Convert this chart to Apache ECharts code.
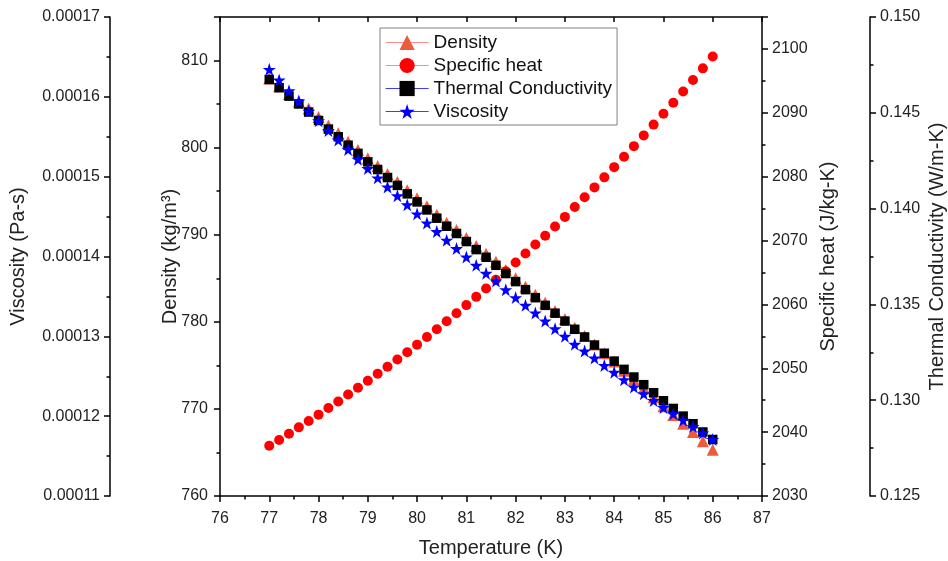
<!DOCTYPE html>
<html>
<head>
<meta charset="utf-8">
<script src="https://cdn.jsdelivr.net/npm/echarts@6.0.0/dist/echarts.min.js"></script>
<style>
html,body{margin:0;padding:0;background:#fff;}
#chart{width:948px;height:561px;}
</style>
</head>
<body>
<div id="chart"></div>
<script>
const temperature = [77.0,77.2,77.4,77.6,77.8,78.0,78.2,78.4,78.6,78.8,
  79.0,79.2,79.4,79.6,79.8,80.0,80.2,80.4,80.6,80.8,
  81.0,81.2,81.4,81.6,81.8,82.0,82.2,82.4,82.6,82.8,
  83.0,83.2,83.4,83.6,83.8,84.0,84.2,84.4,84.6,84.8,
  85.0,85.2,85.4,85.6,85.8,86.0];

const density = [807.95,807.05,806.15,805.29,804.48,803.53,802.53,801.65,800.69,799.73,
  798.77,797.89,796.97,796.05,795.10,794.18,793.26,792.30,791.38,790.54,
  789.62,788.70,787.82,786.90,785.94,785.00,784.04,783.10,782.18,781.23,
  780.33,779.31,778.37,777.39,776.38,775.44,774.37,773.37,772.38,771.34,
  770.31,769.31,768.31,767.34,766.28,765.31];

const specificHeat = [2037.87,2038.78,2039.76,2040.75,2041.74,2042.74,2043.78,2044.81,2045.88,2046.96,
  2048.04,2049.14,2050.25,2051.38,2052.52,2053.70,2054.89,2056.11,2057.35,2058.62,
  2059.89,2061.18,2062.48,2063.86,2065.19,2066.55,2067.96,2069.37,2070.75,2072.21,
  2073.70,2075.24,2076.77,2078.32,2079.89,2081.49,2083.12,2084.78,2086.46,2088.15,
  2089.86,2091.58,2093.34,2095.13,2096.96,2098.81];

const thermalConductivity = [0.14674,0.14631,0.14587,0.14546,0.14504,0.14460,0.14415,0.14375,0.14331,0.14288,
  0.14244,0.14204,0.14162,0.14121,0.14077,0.14035,0.13993,0.13950,0.13908,0.13870,
  0.13828,0.13786,0.13746,0.13704,0.13661,0.13619,0.13577,0.13535,0.13495,0.13454,
  0.13413,0.13370,0.13330,0.13288,0.13245,0.13204,0.13161,0.13121,0.13081,0.13039,
  0.12997,0.12957,0.12917,0.12877,0.12834,0.12795];

const viscosity = [1.6344e-4,1.6210e-4,1.6076e-4,1.5947e-4,1.5821e-4,1.5700e-4,1.5579e-4,1.5458e-4,1.5341e-4,1.5219e-4,
  1.5102e-4,1.4985e-4,1.4872e-4,1.4760e-4,1.4647e-4,1.4534e-4,1.4421e-4,1.4312e-4,1.4204e-4,1.4099e-4,
  1.3995e-4,1.3890e-4,1.3790e-4,1.3694e-4,1.3585e-4,1.3485e-4,1.3389e-4,1.3293e-4,1.3192e-4,1.3096e-4,
  1.3000e-4,1.2900e-4,1.2816e-4,1.2728e-4,1.2636e-4,1.2549e-4,1.2457e-4,1.2365e-4,1.2280e-4,1.2195e-4,
  1.2110e-4,1.2030e-4,1.1950e-4,1.1870e-4,1.1790e-4,1.1708e-4];

const seriesNames = ['Density','Specific heat','Thermal Conductivity','Viscosity'];

const FONT = 'Liberation Sans, Arial, Helvetica, sans-serif';
const TXT = '#222';
const STAR = 'path://M50,0 L61.8,35.1 L98.1,35.1 L68.8,56.8 L79.4,91.0 L50,70 L20.6,91.0 L31.2,56.8 L1.9,35.1 L38.2,35.1 Z';

function pairs(vals){ return temperature.map((t,i)=>[t, vals[i]]); }

function yAxisBase(extra){
  return Object.assign({
    type:'value',
    splitLine:{show:false},
    axisLine:{show:true, onZero:false, lineStyle:{color:'#000', width:1.5}},
    axisTick:{show:true, inside:false, length:6, lineStyle:{color:'#000', width:1.5}},
    minorTick:{show:true, splitNumber:2, length:3.5, lineStyle:{color:'#000', width:1.5}},
    nameLocation:'middle',
    nameMoveOverlap:false,
    nameTextStyle:{color:TXT, fontSize:20, fontFamily:FONT}
  }, extra);
}

const chart = echarts.init(document.getElementById('chart'), null, {renderer:'canvas'});
chart.setOption({
  backgroundColor:'#fff',
  animation:false,
  textStyle:{fontFamily:FONT},
  grid:{left:220, right:186, top:17, bottom:65, containLabel:false, outerBoundsMode:'none'},
  legend:{
    left:380, top:28,
    orient:'vertical',
    itemWidth:43, itemHeight:19, itemGap:4,
    padding:[5,5,4,5],
    borderColor:'#808080', borderWidth:1, borderRadius:0,
    backgroundColor:'#fff',
    textStyle:{color:'#111', fontSize:19, fontFamily:FONT},
    data:[
      {name:seriesNames[0], lineStyle:{opacity:1, color:'#ff8c8c', width:1.2}},
      {name:seriesNames[1], lineStyle:{opacity:1, color:'#ff8c8c', width:1.2}},
      {name:seriesNames[2], lineStyle:{opacity:1, color:'#3b3bff', width:1.2}},
      {name:seriesNames[3], lineStyle:{opacity:1, color:'#3b3bff', width:1.2}}
    ]
  },
  xAxis:[
    {
      type:'value', position:'bottom', min:76, max:87, interval:1,
      splitLine:{show:false},
      axisLine:{show:true, onZero:false, lineStyle:{color:'#000', width:1.5}},
      axisTick:{show:true, inside:false, length:6, lineStyle:{color:'#000', width:1.5}},
      minorTick:{show:true, splitNumber:2, length:3.5, lineStyle:{color:'#000', width:1.5}},
      axisLabel:{color:TXT, fontSize:16, fontFamily:FONT, margin:15},
      name:'Temperature (K)', nameLocation:'middle', nameGap:42, nameMoveOverlap:false,
      nameTextStyle:{color:TXT, fontSize:20, fontFamily:FONT}
    },
    {
      type:'value', position:'top', min:76, max:87, interval:1,
      splitLine:{show:false},
      axisLine:{show:true, onZero:false, lineStyle:{color:'#000', width:1.5}},
      axisTick:{show:true, inside:true, length:5, lineStyle:{color:'#000', width:1.5}},
      axisLabel:{show:false}
    }
  ],
  yAxis:[
    yAxisBase({
      position:'left', offset:0, min:760, max:815, interval:10,
      name:'Density (kg/m³)', nameGap:40,
      axisLabel:{color:TXT, fontSize:16, fontFamily:FONT, margin:12, showMaxLabel:false, formatter:v=>String(v)}
    }),
    yAxisBase({
      position:'right', offset:0, min:2030, max:2105, interval:10,
      name:'Specific heat (J/kg-K)', nameGap:56,
      axisLabel:{color:TXT, fontSize:16, fontFamily:FONT, margin:10, showMaxLabel:false, formatter:v=>String(v)}
    }),
    yAxisBase({
      position:'right', offset:108, min:0.125, max:0.150, interval:0.005,
      name:'Thermal Conductivity (W/m-K)', nameGap:57,
      axisLabel:{color:TXT, fontSize:16, fontFamily:FONT, margin:10, formatter:v=>v.toFixed(3)}
    }),
    yAxisBase({
      position:'left', offset:110, min:0.00011, max:0.00017, interval:0.00001,
      name:'Viscosity (Pa-s)', nameGap:82,
      axisLabel:{color:TXT, fontSize:16, fontFamily:FONT, margin:10, formatter:v=>v.toFixed(5)}
    })
  ],
  series:[
    {
      name:seriesNames[0], type:'line', xAxisIndex:0, yAxisIndex:0,
      data:pairs(density), symbol:'triangle', symbolSize:12, showAllSymbol:true,
      lineStyle:{opacity:0, color:'#ff8c8c'},
      itemStyle:{color:'#ee5a3c'}
    },
    {
      name:seriesNames[1], type:'line', xAxisIndex:0, yAxisIndex:1,
      data:pairs(specificHeat), symbol:'circle', symbolSize:10, showAllSymbol:true,
      lineStyle:{opacity:0, color:'#ff8c8c'},
      itemStyle:{color:'#ff0000'}
    },
    {
      name:seriesNames[2], type:'line', xAxisIndex:0, yAxisIndex:2,
      data:pairs(thermalConductivity), symbol:'rect', symbolSize:9.5, showAllSymbol:true,
      lineStyle:{opacity:0, color:'#3b3bff'},
      itemStyle:{color:'#000000'}
    },
    {
      name:seriesNames[3], type:'line', xAxisIndex:0, yAxisIndex:3,
      data:pairs(viscosity), symbol:STAR, symbolSize:13, showAllSymbol:true,
      lineStyle:{opacity:0, color:'#3b3bff'},
      itemStyle:{color:'#0000ff'}
    }
  ]
});
</script>
</body>
</html>
